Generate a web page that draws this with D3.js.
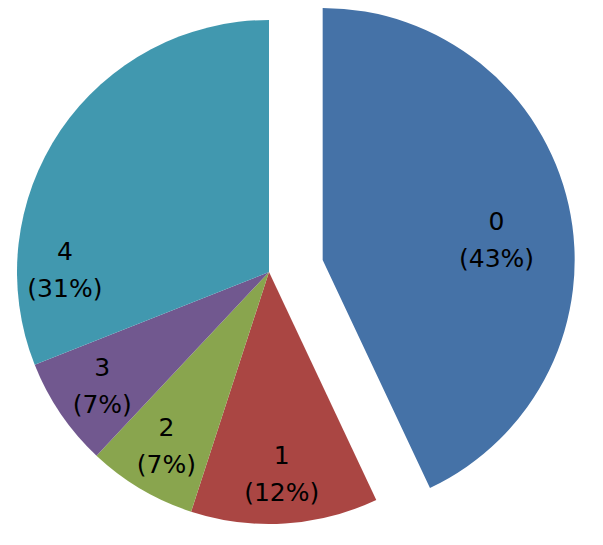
<!DOCTYPE html>
<html><head><meta charset="utf-8">
<script src="https://cdn.jsdelivr.net/npm/d3@7"></script>
<style>html,body{margin:0;padding:0;background:#fff;}</style>
</head><body>
<svg id="chart" width="603" height="545"></svg>
<script>
const categories = ["0", "1", "2", "3", "4"];
const values = [43, 12, 7, 7, 31];
const percentLabels = ["43%", "12%", "7%", "7%", "31%"];
const colors = ["#4572A7", "#AA4643", "#89A54E", "#71588F", "#4198AF"];

// layout
const cx = 269, cy = 272, R = 252, explode = 55;
// label anchor: fraction along slice angle, fraction of radius
const labelAngleFrac = [0.537, 0.5, 0.5, 0.5, 0.2];
const labelRadiusFrac = [0.695, 0.8, 0.8, 0.8, 0.81];
const explodeFlags = [1, 0, 0, 0, 0];

const svg = d3.select("#chart");
const g = svg.append("g").attr("transform", `translate(${cx},${cy})`);
const pie = d3.pie().sort(null).value(d => d.v)(categories.map((c, i) => ({c, v: values[i], i})));
const arc = d3.arc().innerRadius(0).outerRadius(R);

const slices = g.selectAll("g.slice").data(pie).enter().append("g")
  .attr("transform", d => {
    const a = (d.startAngle + d.endAngle) / 2;
    const e = explodeFlags[d.data.i] ? explode : 0;
    return `translate(${e * Math.sin(a)},${-e * Math.cos(a)})`;
  });
slices.append("path").attr("d", arc).attr("fill", d => colors[d.data.i]);

const lineGap = 37;
slices.each(function(d) {
  const i = d.data.i;
  const a = d.startAngle + (d.endAngle - d.startAngle) * labelAngleFrac[i];
  const r = R * labelRadiusFrac[i];
  const x = r * Math.sin(a), y = -r * Math.cos(a);
  const t = d3.select(this).append("text")
    .attr("text-anchor", "middle")
    .attr("font-family", "'DejaVu Sans', sans-serif")
    .attr("font-size", 25)
    .attr("fill", "#000");
  t.append("tspan").attr("x", x).attr("y", y - lineGap / 2 + 9).text(categories[i]);
  t.append("tspan").attr("x", x).attr("y", y + lineGap / 2 + 9).text("(" + percentLabels[i] + ")");
});
</script>
</body></html>
